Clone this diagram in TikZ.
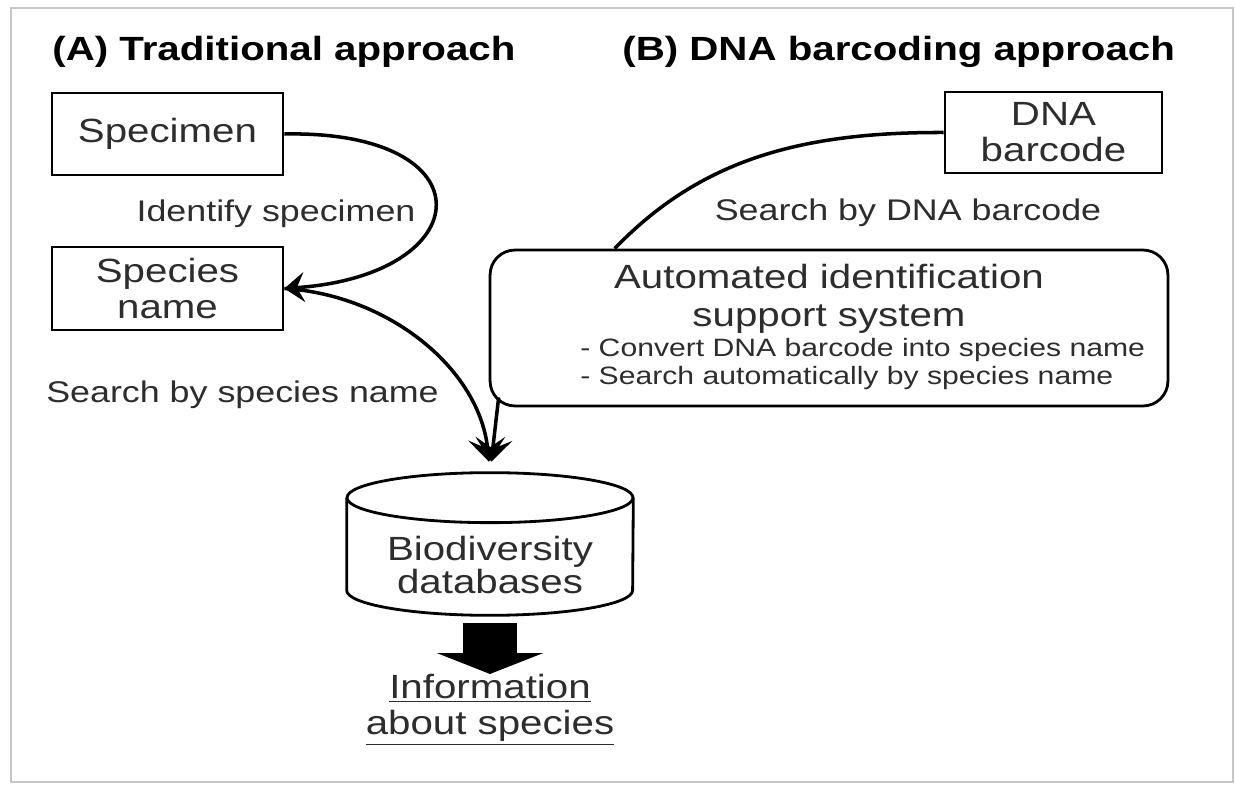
\documentclass[tikz,border=0pt]{standalone}
\usepackage{fontspec}
\setmainfont{Liberation Sans}[FakeStretch=1.2]
\usetikzlibrary{arrows.meta}
\definecolor{inkgray}{RGB}{45,45,45}
\newcommand{\boxfont}{\fontsize{19.1}{20.5}\selectfont}
\newcommand{\titlefont}{\fontsize{19.1}{20.5}\selectfont\bfseries}
\newcommand{\autofont}{\fontsize{19.1}{21.5}\selectfont}
\newcommand{\dbfont}{\fontsize{19.1}{19.3}\selectfont}
\newcommand{\lblfont}{\fontsize{17}{19}\selectfont}
\newcommand{\listfont}{\fontsize{14.3}{15.9}\selectfont}

\begin{document}
\begin{tikzpicture}[x=0.02cm, y=0.02cm,
    box/.style={draw, line width=1.6pt, inner sep=0pt, align=center, font=\boxfont, text=inkgray},
    lbl/.style={inner sep=0pt, align=center, text=inkgray},
    link/.style={line width=2pt}]
    \useasboundingbox (0,0) rectangle (1235,785);
    \draw[gray!45, line width=0.05cm] (11,3) rectangle (1233,777);

    % (A) traditional
    \node[lbl, anchor=west, font=\titlefont, text=black] (titleA) at (52,733) {(A) Traditional approach};
    \node[box, minimum width=4.62cm, minimum height=1.64cm] (spec) at (167.5,651) {Specimen};
    \node[box, minimum width=4.62cm, minimum height=1.66cm] (spname) at (167.5,496.5) {Species\\name};
    \node[lbl, font=\lblfont] (identlbl) at (276,571) {Identify specimen};
    \node[lbl, font=\lblfont] (splbl) at (242.5,390) {Search by species name};

    % (B) DNA barcoding
    \node[lbl, anchor=west, font=\titlefont, text=black] (titleB) at (622,733) {(B) DNA barcoding approach};
    \node[box, minimum width=4.34cm, minimum height=1.62cm] (dna) at (1053.5,652.5) {DNA\\barcode};
    \node[lbl, font=\lblfont] (dnalbl) at (908,572) {Search by DNA barcode};
    \node[draw, line width=1.6pt, rounded corners=0.5cm, minimum width=13.56cm, minimum height=3.12cm] (auto) at (829,457) {};
    \node[lbl, font=\autofont] (autotitle) at (829,486) {Automated identification\\support system};
    \node[lbl, anchor=west, align=left, font=\listfont] (autolist) at (580,421)
        {- Convert DNA barcode into species name\\- Search automatically by species name};
    \coordinate (autocorner) at ([shift={(0.2cm,0.2cm)}]auto.south west);

    % databases (cylinder drawn round the node)
    \node[minimum width=5.72cm, minimum height=2.84cm, inner sep=0pt] (db) at (490,241) {};
    \draw[line width=1.6pt] ([yshift=-0.5cm]db.north west) -- ([yshift=0.5cm]db.south west)
        arc[start angle=180, end angle=360, x radius=2.86cm, y radius=0.5cm]
        -- ([yshift=-0.5cm]db.north east);
    \draw[line width=1.6pt] ([yshift=-0.5cm]db.north) ellipse[x radius=2.86cm, y radius=0.5cm];
    \node[lbl, font=\dbfont] (dbtext) at (490,220) {Biodiversity\\databases};
    \node[lbl, anchor=north, font=\boxfont] (info) at (490,111) {\underline{Information}\\\underline{about species}};

    % connectors
    \draw[link, -{Stealth[length=0.4cm, width=0.6cm, inset=0.15cm]}] (spec.east) .. controls (490,655) and (480,510) .. (spname.east);
    \draw[link, -{Stealth[length=0.46cm, width=0.74cm, inset=0.2cm]}, shorten >=0.22cm] (spname.east) .. controls (390,490) and (480,415) .. (db.north);
    \draw[link, -{Stealth[length=0.46cm, width=0.74cm, inset=0.2cm]}, shorten >=0.22cm] (autocorner) -- (db.north);
    \draw[link] (dna.west) .. controls (800,653) and (700,625) .. ([xshift=2.52cm]auto.north west);
    \draw[line width=1.08cm, -{Triangle[length=0.42cm, width=2.12cm]}] ([yshift=-0.16cm]db.south) -- (info.north);
\end{tikzpicture}
\end{document}
